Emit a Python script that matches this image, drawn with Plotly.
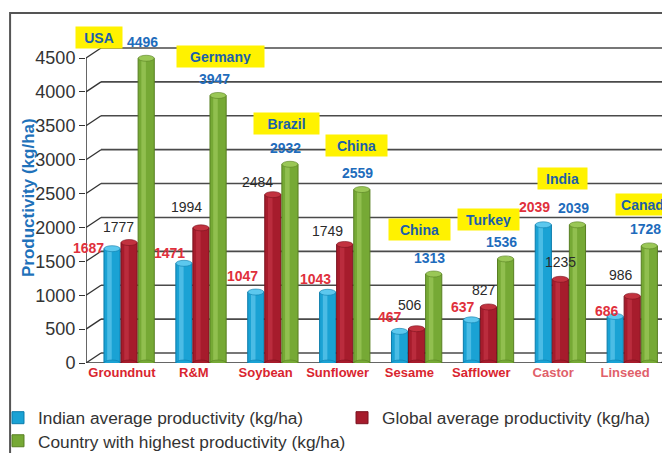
import plotly.graph_objects as go

# ---------------- data ----------------
crops = ["Groundnut", "R&M", "Soybean", "Sunflower", "Sesame", "Safflower", "Castor", "Linseed"]
indian_avg = [1687, 1471, 1047, 1043, 467, 637, 2039, 686]
global_avg = [1777, 1994, 2484, 1749, 506, 827, 1235, 986]
highest = [4496, 3947, 2932, 2559, 1313, 1536, 2039, 1728]
top_country = ["USA", "Germany", "Brazil", "China", "China", "Turkey", "India", "Canada"]
y_ticks = [0, 500, 1000, 1500, 2000, 2500, 3000, 3500, 4000, 4500]
series_names = ["Indian average productivity (kg/ha)",
                "Global average productivity (kg/ha)",
                "Country with highest productivity (kg/ha)"]

# ---------------- styles / layout helpers ----------------
FONT = "Liberation Sans, Arial, sans-serif"
BAR_W = 0.225
OFFSETS = [-0.25, -0.013, 0.225]
MAIN = ["#1AA2D4", "#A61C2C", "#76A935"]
EDGE = ["#0B7CAB", "#7A121F", "#587F22"]
HIGH = ["#74D3F3", "#CC3A4B", "#A8D266"]
CAP = ["#5CC8EE", "#C2323F", "#9AC756"]
CAT_COLORS = ["#D9252F"] * 6 + ["#E0606A", "#E0606A"]
LEGENDS = ["legend", "legend2", "legend3"]

# per-label pixel nudges (dx, dy up)
indian_shift = [(-24, 1), (-14, 10), (-13, 16), (-12, 13), (-9.5, 14), (-8, 13), (-9, 18), (-8, 6)]
global_shift = [(-10.6, 16), (-14, 21), (-15, 13), (-17, 13.5), (-6.6, 24), (-4.5, 17), (0, 17), (-11, 21)]
high_shift = (-4, 16.5)
country_shift = [(-47, 21), (2.4, 39), (-3.5, 41), (-5.4, 44), (-14, 44.5), (-17, 39), (-15, 46), (-3, 41)]
country_w = [46, 87, 65, 61, 61, 61, 49, 61]

series = [indian_avg, global_avg, highest]
idx = list(range(len(crops)))

fig = go.Figure()
for s, vals in enumerate(series):
    fig.add_trace(go.Bar(
        x=idx, y=vals, name=series_names[s], width=BAR_W, offset=OFFSETS[s],
        marker=dict(color=MAIN[s], line=dict(color=EDGE[s], width=1)),
        showlegend=True, legend=LEGENDS[s], hoverinfo="skip"))
    # highlight stripe for cylinder look
    fig.add_trace(go.Bar(
        x=idx, y=vals, width=BAR_W * 0.28, offset=OFFSETS[s] + BAR_W * 0.2,
        marker=dict(color=HIGH[s], line=dict(width=0)), opacity=0.55,
        showlegend=False, hoverinfo="skip"))

shapes = []
# back-plane gridlines and diagonal connectors
for v in y_ticks:
    shapes.append(dict(type="line", layer="below", xref="x", yref="y",
                       xsizemode="pixel", xanchor=-0.5, x0=15, x1=700,
                       ysizemode="pixel", yanchor=v, y0=10, y1=10,
                       line=dict(color="#4A4A4A", width=1.6)))
    shapes.append(dict(type="line", layer="below", xref="x", yref="y",
                       xsizemode="pixel", xanchor=-0.5, x0=0, x1=15,
                       ysizemode="pixel", yanchor=v, y0=0, y1=10,
                       line=dict(color="#333333", width=1.3)))
# right floor diagonal
shapes.append(dict(type="line", layer="below", xref="x", yref="y",
                   xsizemode="pixel", xanchor=len(crops) - 0.5, x0=0, x1=15,
                   ysizemode="pixel", yanchor=0, y0=0, y1=10,
                   line=dict(color="#333333", width=1.3)))
# front axis lines
shapes.append(dict(type="line", layer="below", xref="x", yref="y",
                   x0=-0.5, x1=-0.5, y0=0, y1=y_ticks[-1],
                   line=dict(color="#333333", width=1.5)))
shapes.append(dict(type="line", layer="below", xref="x", yref="y",
                   x0=-0.5, x1=len(crops) - 0.5, y0=0, y1=0,
                   line=dict(color="#333333", width=1.5)))
# category boundary ticks
for i in range(len(crops) + 1):
    shapes.append(dict(type="line", layer="below", xref="x", yref="y",
                       x0=i - 0.5, x1=i - 0.5, y0=0, ysizemode="pixel", yanchor=0, y1=-6,
                       line=dict(color="#333333", width=1.3)))
# cylinder caps and bottoms
for s, vals in enumerate(series):
    for i, v in enumerate(vals):
        xc = i + OFFSETS[s] + BAR_W / 2
        shapes.append(dict(type="circle", layer="above", xref="x", yref="y",
                           xsizemode="pixel", xanchor=xc, x0=-8, x1=8,
                           ysizemode="pixel", yanchor=0, y0=-3, y1=3,
                           fillcolor=MAIN[s], line=dict(color=EDGE[s], width=0.6)))
        shapes.append(dict(type="circle", layer="above", xref="x", yref="y",
                           xsizemode="pixel", xanchor=xc, x0=-8, x1=8,
                           ysizemode="pixel", yanchor=v, y0=-3, y1=3,
                           fillcolor=CAP[s], line=dict(color=EDGE[s], width=0.6)))
# outer frame
shapes.append(dict(type="rect", xref="paper", yref="paper",
                   x0=-0.130, x1=1.2, y0=-0.6, y1=1.0,
                   line=dict(color="#555555", width=2), fillcolor="rgba(0,0,0,0)"))

ann = []
for i in idx:
    xb = i + OFFSETS[0] + BAR_W / 2
    ann.append(dict(x=xb, y=indian_avg[i], xref="x", yref="y", text=str(indian_avg[i]),
                    showarrow=False, xshift=indian_shift[i][0], yshift=indian_shift[i][1],
                    font=dict(family=FONT, size=14, color="#E0303C", weight="bold")))
    xr = i + OFFSETS[1] + BAR_W / 2
    ann.append(dict(x=xr, y=global_avg[i], xref="x", yref="y", text=str(global_avg[i]),
                    showarrow=False, xshift=global_shift[i][0], yshift=global_shift[i][1],
                    font=dict(family=FONT, size=14, color="#2A2A2A")))
    xg = i + OFFSETS[2] + BAR_W / 2
    ann.append(dict(x=xg, y=highest[i], xref="x", yref="y", text=str(highest[i]),
                    showarrow=False, xshift=high_shift[0], yshift=high_shift[1],
                    font=dict(family=FONT, size=14, color="#1E6CBC", weight="bold")))
    ann.append(dict(x=xg, y=highest[i], xref="x", yref="y", text=top_country[i],
                    showarrow=False, xshift=country_shift[i][0], yshift=country_shift[i][1],
                    width=country_w[i] - 6, height=15, borderpad=3, bgcolor="#FFF200",
                    font=dict(family=FONT, size=14, color="#1B5FAA", weight="bold")))
ann.append(dict(x=-0.0993, y=0.4714, xref="paper", yref="paper", text="Productivity (kg/ha)",
                textangle=-90, showarrow=False, xanchor="center", yanchor="middle",
                font=dict(family=FONT, size=17, color="#1F72BA", weight="bold")))

ticktext = [f'<span style="color:{CAT_COLORS[i]}">{c}</span>' for i, c in enumerate(crops)]

leg_font = dict(family=FONT, size=17.3, color="#333333")
leg_common = dict(orientation="h", xanchor="left", yanchor="middle",
                  font=leg_font, bgcolor="rgba(0,0,0,0)", borderwidth=0)

fig.update_layout(
    width=670, height=453,
    margin=dict(l=78, r=8, t=5, b=98, autoexpand=False),
    paper_bgcolor="white", plot_bgcolor="white",
    barmode="overlay",
    xaxis=dict(range=[-0.5, len(crops) - 0.375], tickmode="array", tickvals=idx, ticktext=ticktext,
               showgrid=False, zeroline=False, showline=False,
               ticks="", tickfont=dict(family=FONT, size=13, color="#D9252F", weight="bold")),
    yaxis=dict(range=[0, 5164], tickmode="array", tickvals=y_ticks,
               showgrid=False, zeroline=False, showline=False,
               ticks="outside", ticklen=6, tickcolor="#333333", tickwidth=1.3,
               tickfont=dict(family=FONT, size=18, color="#333333")),
    shapes=shapes,
    annotations=ann,
    legend=dict(x=-0.1507, y=-0.157, **leg_common),
    legend2=dict(x=0.4384, y=-0.157, **leg_common),
    legend3=dict(x=-0.1507, y=-0.2229, **leg_common),
    showlegend=True,
)

fig.write_html("out.html")
